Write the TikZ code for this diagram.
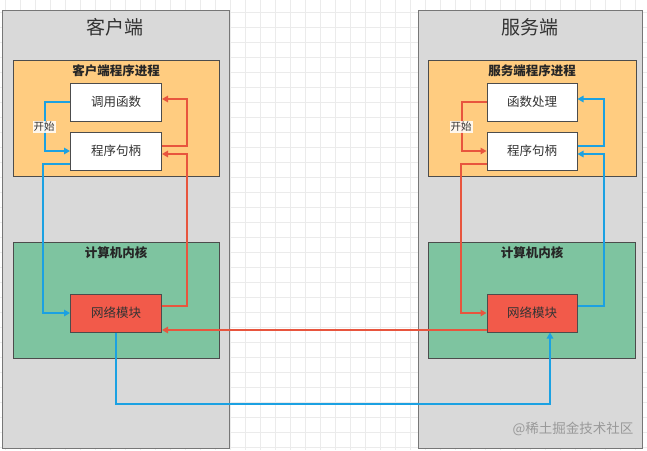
\documentclass[tikz,border=0pt]{standalone}
\usepackage{fontspec}
\setmainfont{Noto Sans CJK SC}
\usetikzlibrary{arrows.meta}
\definecolor{panelgray}{HTML}{D9D9D9}
\definecolor{panelline}{HTML}{777777}
\definecolor{procorange}{HTML}{FFCC80}
\definecolor{kernelgreen}{HTML}{7EC4A0}
\definecolor{netred}{HTML}{F25A4A}
\definecolor{linkblue}{HTML}{1BA1E2}
\definecolor{linkred}{HTML}{E8553E}
\definecolor{txt}{HTML}{333333}
\tikzset{
  panel/.style={draw=panelline, fill=panelgray, line width=1pt},
  procbox/.style={draw=black!70, fill=procorange, line width=1pt},
  kernbox/.style={draw=black!70, fill=kernelgreen, line width=1pt},
  wbox/.style={draw=black!70, fill=white, line width=1pt, minimum height=38pt, inner sep=0pt, text=txt, font=\fontsize{12.5}{14}\selectfont},
  netbox/.style={wbox, fill=netred},
  bigtitle/.style={text=txt, font=\fontsize{19}{22}\selectfont},
  boxtitle/.style={text=black!85, font=\fontsize{12.5}{14}\selectfont\bfseries},
  startlbl/.style={fill=white, fill opacity=0.85, text opacity=1, inner sep=1pt, text=txt, font=\fontsize{10.5}{12}\selectfont},
  bluelink/.style={draw=linkblue, line width=2pt, -{Triangle[length=6pt,width=6.5pt]}},
  redlink/.style={draw=linkred, line width=2pt, -{Triangle[length=6pt,width=6.5pt]}},
}
\begin{document}
\begin{tikzpicture}[x=1pt,y=-1pt]
\useasboundingbox (0,0) rectangle (647,450);
\fill[white] (0,0) rectangle (647,450);
% grid
\foreach \gx in {5,20,...,647} \draw[black!8, line width=0.7pt] (\gx,0) -- (\gx,450);
\foreach \gy in {12,27,...,450} \draw[black!8, line width=0.7pt] (0,\gy) -- (647,\gy);

% panels
\draw[panel] (2,10) rectangle (229,448);
\draw[panel] (418,10) rectangle (642,448);
\node[bigtitle] (ctitle) at (115,27) {客户端};
\node[bigtitle] (stitle) at (530,27) {服务端};

% process boxes
\draw[procbox] (13,60) rectangle (219,176);
\draw[procbox] (428,60) rectangle (636,176);
\node[boxtitle] (cproc) at (116,71) {客户端程序进程};
\node[boxtitle] (sproc) at (532,71) {服务端程序进程};

% kernel boxes
\draw[kernbox] (13,242) rectangle (219,358);
\draw[kernbox] (428,242) rectangle (635,358);
\node[boxtitle] (ckern) at (116,253) {计算机内核};
\node[boxtitle] (skern) at (532,253) {计算机内核};

% client nodes
\node[wbox, minimum width=91pt] (cfunc) at (116,102) {调用函数};
\node[wbox, minimum width=91pt] (chandle) at (116,151) {程序句柄};
\node[netbox, minimum width=91pt] (cnet) at (116,313) {网络模块};

% server nodes
\node[wbox, minimum width=90pt] (sfunc) at (532,102) {函数处理};
\node[wbox, minimum width=90pt] (shandle) at (532,151) {程序句柄};
\node[netbox, minimum width=90pt] (snet) at (532,313) {网络模块};

% client links
\draw[bluelink] (cfunc.west) -- ++(-25.5,0) |- (chandle.west);
\draw[bluelink] ([yshift=-13pt]chandle.west) -- ++(-27.5,0) |- (cnet.west);
\draw[redlink] ([yshift=5pt]chandle.east) -- ++(24.5,0) |- ([yshift=3pt]cfunc.east);
\draw[redlink] ([yshift=7pt]cnet.east) -- ++(24.5,0) |- ([yshift=-3pt]chandle.east);
\node[startlbl] (cstart) at (44,127) {开始};

% server links
\draw[redlink] (sfunc.west) -- ++(-25,0) |- (shandle.west);
\draw[redlink] ([yshift=-13pt]shandle.west) -- ++(-26,0) |- (snet.west);
\draw[bluelink] ([yshift=7pt]snet.east) -- ++(26,0) |- ([yshift=-3pt]shandle.east);
\draw[bluelink] ([yshift=5pt]shandle.east) -- ++(26,0) |- ([yshift=3pt]sfunc.east);
\node[startlbl] (sstart) at (461,127) {开始};

% cross links
\draw[redlink] ([yshift=-17pt]snet.west) -- ([yshift=-17pt]cnet.east);
\draw[bluelink] (cnet.south) -- ++(0,71) -| ([xshift=18pt]snet.south);

% watermark
\node[text=black!40, font=\fontsize{13.5}{15}\selectfont] (wm) at (573,429) {@稀土掘金技术社区};
\end{tikzpicture}
\end{document}
